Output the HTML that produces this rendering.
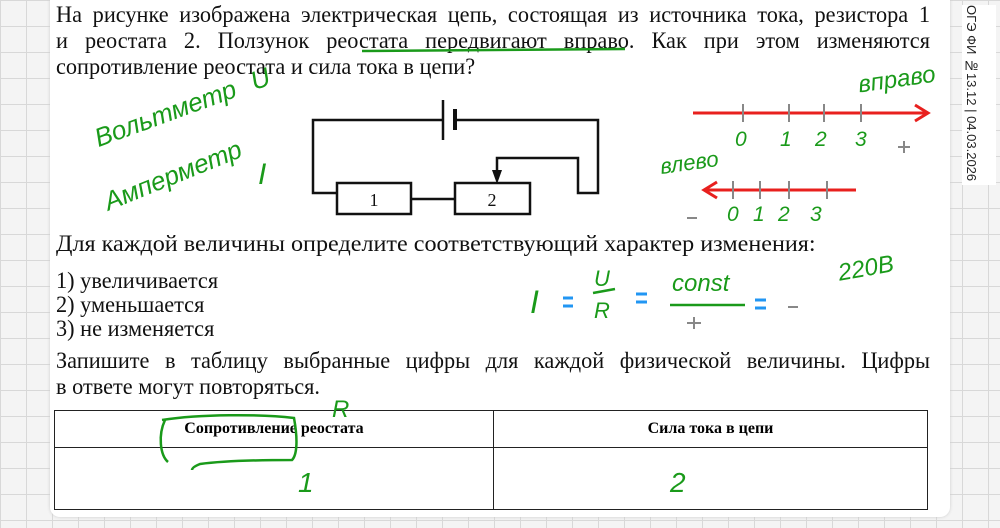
<!DOCTYPE html>
<html><head><meta charset="utf-8"><style>
body{margin:0;width:1000px;height:528px;overflow:hidden;position:relative;
background-color:#f4f4f4;
background-image:linear-gradient(#d8d8d8 1px,transparent 1px),linear-gradient(90deg,#d8d8d8 1px,transparent 1px);
background-size:26px 26px;font-family:"Liberation Serif",serif;}
.card{position:absolute;left:50px;top:-10px;width:900px;height:527px;background:#fff;border-radius:10px;box-shadow:0 0 3px #ccc;}
.t{position:absolute;left:56px;font-size:23px;line-height:26px;color:#111;white-space:nowrap;transform-origin:0 0;transform:scaleX(0.97)}
.j{width:901px;text-align:justify;text-align-last:justify;white-space:normal}
.side{position:absolute;left:962px;top:5px;width:34px;height:180px;background:#fff;}
.side span{position:absolute;left:2px;top:0;writing-mode:vertical-rl;font-family:"Liberation Sans",sans-serif;font-size:13px;color:#222}
.g{font-family:"Liberation Sans",sans-serif;color:#1a9a1a;position:absolute;font-style:italic}
table{position:absolute;left:54px;top:410px;width:874px;height:100px;border-collapse:collapse}
td{border:1.5px solid #222;text-align:center;font-size:16px;font-weight:bold}
</style></head><body>
<div class="card"></div>
<div class="side"><span>ОГЭ ФИ №13.12 | 04.03.2026</span></div>
<div class="t j" style="top:2px">На рисунке изображена электрическая цепь, состоящая из источника тока, резистора 1</div>
<div class="t j" style="top:28px">и реостата 2. Ползунок реостата передвигают вправо. Как при этом изменяются</div>
<div class="t" style="top:54px">сопротивление реостата и сила тока в цепи?</div>
<div class="t" style="top:231px;transform:scaleX(1.05)">Для каждой величины определите соответствующий характер изменения:</div>
<div class="t" style="top:268px">1) увеличивается</div>
<div class="t" style="top:292px">2) уменьшается</div>
<div class="t" style="top:316px">3) не изменяется</div>
<div class="t j" style="top:348px">Запишите в таблицу выбранные цифры для каждой физической величины. Цифры</div>
<div class="t" style="top:374px">в ответе могут повторяться.</div>
<table><tr style="height:37px"><td style="width:436px">Сопротивление реостата</td><td>Сила тока в цепи</td></tr><tr><td></td><td></td></tr></table>
<svg width="1000" height="528" style="position:absolute;left:0;top:0" fill="none">
<line x1="362" y1="51" x2="625" y2="49" stroke="#1a9a1a" stroke-width="2.5"/>
<g stroke="#111" stroke-width="2.5">
<polyline points="443,120 313,120 313,193 337,193"/>
<polyline points="457,120 598,120 598,193 578,193 578,158 497,158 497,175"/>
<line x1="443" y1="100" x2="443" y2="140"/><line x1="455" y1="109" x2="455" y2="130" stroke-width="4"/>
<rect x="337" y="183" width="74" height="31"/><rect x="455" y="183" width="75" height="31"/>
<line x1="411" y1="199" x2="455" y2="199"/>
</g>
<polygon points="492,170 502,170 497,184" fill="#111"/>
<text x="374" y="206" font-size="18" fill="#111" text-anchor="middle" font-family="Liberation Serif">1</text>
<text x="492" y="206" font-size="18" fill="#111" text-anchor="middle" font-family="Liberation Serif">2</text>
<g stroke="#e8201e" stroke-width="3"><line x1="693" y1="113" x2="927" y2="113"/><polyline points="915,105 928,113 915,121"/>
<line x1="705" y1="190" x2="856" y2="190"/><polyline points="717,182 704,190 717,198"/></g>
<g stroke="#888" stroke-width="2"><line x1="743" y1="104" x2="743" y2="122"/><line x1="789" y1="104" x2="789" y2="122"/><line x1="824" y1="104" x2="824" y2="122"/><line x1="861" y1="104" x2="861" y2="122"/>
<line x1="733" y1="181" x2="733" y2="199"/><line x1="760" y1="181" x2="760" y2="199"/><line x1="789" y1="181" x2="789" y2="199"/><line x1="827" y1="181" x2="827" y2="199"/>
<line x1="898" y1="147" x2="910" y2="147"/><line x1="904" y1="141" x2="904" y2="153"/><line x1="687" y1="218" x2="697" y2="218"/><line x1="687" y1="323" x2="701" y2="323"/><line x1="694" y1="317" x2="694" y2="329"/><line x1="788" y1="307" x2="798" y2="307"/></g>
<g stroke="#2196f3" stroke-width="3"><line x1="563" y1="298" x2="573" y2="298"/><line x1="563" y1="306" x2="573" y2="306"/><line x1="636" y1="294" x2="647" y2="294"/><line x1="636" y1="302" x2="647" y2="302"/><line x1="755" y1="300" x2="766" y2="300"/><line x1="755" y1="308" x2="766" y2="308"/></g>
<g stroke="#1a9a1a" stroke-width="2.5"><line x1="670" y1="305" x2="745" y2="305"/><line x1="593" y1="293" x2="615" y2="289"/>
<path d="M165 420 C158 435 160 455 168 462"/><path d="M162 420 C200 414 260 414 294 418 C298 440 297 455 292 460 C270 460 230 460 200 464 C195 466 192 468 192 470"/></g>
</svg>
<div class="g" style="left:90px;top:92px;font-size:26px;transform:rotate(-20deg)">Вольтметр <span style="margin-left:10px">U</span></div>
<div class="g" style="left:100px;top:160px;font-size:26px;transform:rotate(-22deg)">Амперметр</div>
<div class="g" style="left:258px;top:158px;font-size:30px">I</div>
<div class="g" style="left:858px;top:66px;font-size:24px;transform:rotate(-8deg)">вправо</div>
<div class="g" style="left:660px;top:150px;font-size:22px;transform:rotate(-8deg)">влево</div>
<div class="g" style="left:735px;top:128px;font-size:21px">0</div>
<div class="g" style="left:780px;top:128px;font-size:21px">1</div><div class="g" style="left:815px;top:128px;font-size:21px">2</div><div class="g" style="left:855px;top:128px;font-size:21px">3</div>
<div class="g" style="left:727px;top:203px;font-size:21px">0</div><div class="g" style="left:753px;top:203px;font-size:21px">1</div><div class="g" style="left:778px;top:203px;font-size:21px">2</div><div class="g" style="left:810px;top:203px;font-size:21px">3</div>
<div class="g" style="left:838px;top:255px;font-size:24px;transform:rotate(-10deg)">220В</div>
<div class="g" style="left:530px;top:284px;font-size:32px">I</div>
<div class="g" style="left:594px;top:266px;font-size:22px">U</div><div class="g" style="left:594px;top:298px;font-size:22px">R</div>
<div class="g" style="left:672px;top:270px;font-size:24px">const</div>
<div class="g" style="left:332px;top:396px;font-size:24px">R</div>
<div class="g" style="left:298px;top:467px;font-size:28px">1</div>
<div class="g" style="left:670px;top:467px;font-size:28px">2</div>
</body></html>
